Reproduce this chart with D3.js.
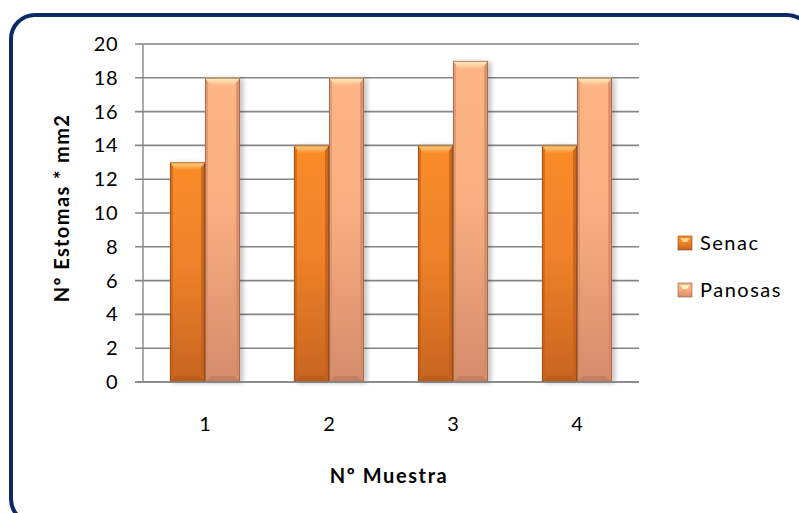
<!DOCTYPE html>
<html>
<head>
<meta charset="utf-8">
<script src="https://cdnjs.cloudflare.com/ajax/libs/d3/7.8.5/d3.min.js"></script>
<style>
  html, body { margin: 0; padding: 0; background: #fff; }
  svg { display: block; }
  text { font-family: Lato, "Open Sans", "Liberation Sans", sans-serif; }
</style>
</head>
<body>
<script>
// Stomata counts per mm² for each sample
const categories = ["1", "2", "3", "4"];
const seriesNames = ["Senac", "Panosas"];
const senac = [13, 14, 14, 14];
const panosas = [18, 18, 19, 18];
const yTicks = [0, 2, 4, 6, 8, 10, 12, 14, 16, 18, 20];

const W = 799, H = 513;
const margin = { left: 143, right: 160, top: 44, bottom: 131 };

const svg = d3.select("body").append("svg").attr("width", W).attr("height", H);
const defs = svg.append("defs");

// Bar fills: vertical gradient from bright top to a duskier base
const palettes = {
  Senac:   { top: "#F98C28", mid: "#F0832A", bot: "#C8641F", edge: "#8E4614", hi: "#FFD58A", side: "#C2601A" },
  Panosas: { top: "#FDB585", mid: "#F8AE80", bot: "#D48C6C", edge: "#8E5A40", hi: "#FFF3C4", side: "#D48C68" }
};
seriesNames.forEach(n => {
  const p = palettes[n];
  const g = defs.append("linearGradient").attr("id", "grad-" + n)
    .attr("x1", 0).attr("y1", 0).attr("x2", 0).attr("y2", 1);
  g.append("stop").attr("offset", "0%").attr("stop-color", p.top);
  g.append("stop").attr("offset", "45%").attr("stop-color", p.mid);
  g.append("stop").attr("offset", "100%").attr("stop-color", p.bot);
  const h = defs.append("linearGradient").attr("id", "hi-" + n)
    .attr("x1", 0).attr("y1", 0).attr("x2", 0).attr("y2", 1);
  h.append("stop").attr("offset", "0%").attr("stop-color", p.hi);
  h.append("stop").attr("offset", "100%").attr("stop-color", p.top);
});
const shadow = defs.append("filter").attr("id", "shadow")
  .attr("x", "-20%").attr("y", "-5%").attr("width", "150%").attr("height", "115%");
shadow.append("feGaussianBlur").attr("in", "SourceAlpha").attr("stdDeviation", 2.5);
shadow.append("feOffset").attr("dx", 3).attr("dy", 1).attr("result", "b");
shadow.append("feComponentTransfer").append("feFuncA").attr("type", "linear").attr("slope", 0.25);
const merge = shadow.append("feMerge");
merge.append("feMergeNode");
merge.append("feMergeNode").attr("in", "SourceGraphic");

// Rounded navy frame around the chart
svg.append("rect")
  .attr("x", 11).attr("y", 15).attr("width", 800).attr("height", 508)
  .attr("rx", 24).attr("ry", 24)
  .attr("fill", "none").attr("stroke", "#0B2A66").attr("stroke-width", 4);

const x0 = d3.scaleBand().domain(categories)
  .range([margin.left, W - margin.right]).paddingInner(0.435).paddingOuter(0.2175);
const x1 = d3.scaleBand().domain(seriesNames).range([0, x0.bandwidth()]);
const y = d3.scaleLinear().domain([0, 20]).range([H - margin.bottom, margin.top]);

// Gridlines
svg.append("g").selectAll("line").data(yTicks).join("line")
  .attr("x1", margin.left - 8).attr("x2", W - margin.right)
  .attr("y1", d => y(d)).attr("y2", d => y(d))
  .attr("stroke", "#868686").attr("stroke-width", 1.6);

// Vertical axis line
svg.append("line")
  .attr("x1", margin.left).attr("x2", margin.left)
  .attr("y1", y(20)).attr("y2", y(0))
  .attr("stroke", "#868686").attr("stroke-width", 1.4);

// Y tick labels
const yAxis = d3.axisLeft(y).tickValues(yTicks).tickSize(0).tickPadding(25);
const ya = svg.append("g").attr("transform", `translate(${margin.left},0)`).call(yAxis);
ya.select(".domain").remove();
ya.selectAll("text").attr("font-size", 20).attr("fill", "#000")
  .style("font-family", "Lato, 'Open Sans', sans-serif").style("letter-spacing", "0.5px");

// X tick labels
const xAxis = d3.axisBottom(x0).tickSize(0).tickPadding(35);
const xa = svg.append("g").attr("transform", `translate(0,${y(0)})`).call(xAxis);
xa.select(".domain").remove();
xa.selectAll("text").attr("font-size", 20).attr("fill", "#000")
  .style("font-family", "Lato, 'Open Sans', sans-serif");

// Bars
const rows = categories.map((c, i) => ({ cat: c, vals: [
  { name: "Senac", v: senac[i] }, { name: "Panosas", v: panosas[i] } ] }));

const groups = svg.append("g").selectAll("g").data(rows).join("g")
  .attr("transform", d => `translate(${x0(d.cat)},0)`);

const bars = groups.selectAll("g").data(d => d.vals).join("g")
  .attr("filter", "url(#shadow)");

bars.each(function(d) {
  const g = d3.select(this);
  const p = palettes[d.name];
  const bx = x1(d.name), bw = x1.bandwidth();
  const top = y(d.v), base = y(0);
  const bev = 6;
  g.append("rect").attr("x", bx).attr("y", top).attr("width", bw).attr("height", base - top)
    .attr("fill", `url(#grad-${d.name})`);
  // side shading
  g.append("rect").attr("x", bx).attr("y", top).attr("width", 3).attr("height", base - top)
    .attr("fill", p.side).attr("opacity", 0.6);
  g.append("rect").attr("x", bx + bw - 4).attr("y", top).attr("width", 4).attr("height", base - top)
    .attr("fill", p.side).attr("opacity", 0.8);
  // top bevel
  g.append("path")
    .attr("d", `M${bx},${top} L${bx + bw},${top} L${bx + bw - bev},${top + bev + 2} L${bx + bev},${top + bev + 2} Z`)
    .attr("fill", `url(#hi-${d.name})`);
  // bottom bevel
  g.append("path")
    .attr("d", `M${bx},${base} L${bx + bw},${base} L${bx + bw - bev},${base - bev} L${bx + bev},${base - bev} Z`)
    .attr("fill", p.edge).attr("opacity", 0.25);
  g.append("rect").attr("x", bx + 0.5).attr("y", top + 0.5).attr("width", bw - 1).attr("height", base - top - 1)
    .attr("fill", "none").attr("stroke", p.edge).attr("stroke-width", 1).attr("opacity", 0.7);
});

// Baseline over bars
svg.append("line")
  .attr("x1", margin.left - 8).attr("x2", W - margin.right)
  .attr("y1", y(0)).attr("y2", y(0))
  .attr("stroke", "#868686").attr("stroke-width", 1.6);

// Axis titles
svg.append("text")
  .attr("transform", `translate(69,208) rotate(-90)`)
  .attr("text-anchor", "middle").attr("font-size", 20).attr("font-weight", "bold")
  .style("letter-spacing", "1.4px")
  .text("Nº Estomas * mm2");
svg.append("text")
  .attr("x", 389).attr("y", 483)
  .attr("text-anchor", "middle").attr("font-size", 20).attr("font-weight", "bold")
  .style("letter-spacing", "1.6px")
  .text("Nº Muestra");

// Legend
const legend = svg.append("g").selectAll("g").data(seriesNames).join("g")
  .attr("transform", (d, i) => `translate(678,${236 + i * 47})`);
legend.append("rect").attr("width", 14).attr("height", 14)
  .attr("fill", d => `url(#grad-${d})`).attr("stroke", d => palettes[d].edge).attr("stroke-width", 0.6);
legend.append("path").attr("d", "M2,2 L12,2 L9,6 L5,6 Z")
  .attr("fill", d => palettes[d].hi);
legend.append("text").attr("x", 22).attr("y", 14).attr("font-size", 20)
  .style("letter-spacing", "1.5px").text(d => d);
</script>
</body>
</html>
